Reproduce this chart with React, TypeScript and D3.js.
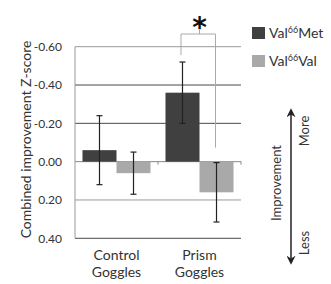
import React from 'react';
import * as d3 from 'd3';

const categories = ['Control Goggles', 'Prism Goggles'];
const groups = ['Met', 'Val'];
const metValues = [-0.06, -0.36];
const valValues = [0.06, 0.16];
const metErr = [0.18, 0.16];
const valErr = [0.11, 0.155];
const yTicks = [-0.6, -0.4, -0.2, 0, 0.2, 0.4];

const W = 331;
const H = 284;
const margin = { left: 75, right: 90, top: 46.7, bottom: 45.7 };
const font = 'Lato, "Open Sans", sans-serif';
const darkBar = '#404040';
const lightBar = '#a9a9a9';

export default function App() {
  const x = d3.scaleBand().domain(categories).range([margin.left, W - margin.right]);
  const x1 = d3.scaleBand().domain(groups).range([0, x.bandwidth()]).paddingOuter(0.22);
  const y = d3.scaleLinear().domain([-0.6, 0.4]).range([margin.top, H - margin.bottom]);
  const y0 = y(0);

  const gridColor = (t: number) => (t === -0.6 || t === 0.2 ? '#999' : t === 0 ? '#888' : '#4a4a4a');

  const bars = categories.flatMap((c, i) => [
    { c, g: 'Met', v: metValues[i], e: metErr[i], fill: darkBar },
    { c, g: 'Val', v: valValues[i], e: valErr[i], fill: lightBar },
  ]);

  // significance bracket between prism bars
  const pm = x('Prism Goggles')! + x1('Met')! + x1.bandwidth() / 2;
  const pv = x('Prism Goggles')! + x1('Val')! + x1.bandwidth() / 2;
  const bracketY = 34;

  return (
    <svg width={W} height={H} style={{ position: 'absolute', left: 0, top: 0, background: '#fff' }}>
      {yTicks.map(t => (
        <g key={t}>
          <line x1={margin.left} x2={W - margin.right} y1={y(t)} y2={y(t)} stroke={gridColor(t)} strokeWidth={1} />
          <text x={62} y={y(t)} dy="0.35em" textAnchor="end" fontFamily={font} fontSize={12} fill="#333">
            {t === 0 ? '0.00' : (t < 0 ? '-' : '') + Math.abs(t).toFixed(2)}
          </text>
        </g>
      ))}
      <line x1={margin.left} x2={margin.left} y1={y(-0.6)} y2={y(0.4)} stroke="#999" />
      {[x('Prism Goggles')!, W - margin.right].map(tx => (
        <line key={tx} x1={tx} x2={tx} y1={y0} y2={y0 + 3} stroke="#888" />
      ))}

      {bars.map(b => {
        const bx = x(b.c)! + x1(b.g)!;
        const cx = bx + x1.bandwidth() / 2;
        return (
          <g key={b.c + b.g}>
            <rect x={bx} width={x1.bandwidth()} y={Math.min(y(b.v), y0)} height={Math.abs(y(b.v) - y0)} fill={b.fill} />
            <line x1={cx} x2={cx} y1={y(b.v - b.e)} y2={y(b.v + b.e)} stroke="#222" strokeWidth={1.2} />
            <line x1={cx - 3} x2={cx + 3} y1={y(b.v - b.e)} y2={y(b.v - b.e)} stroke="#222" strokeWidth={1.2} />
            <line x1={cx - 3} x2={cx + 3} y1={y(b.v + b.e)} y2={y(b.v + b.e)} stroke="#222" strokeWidth={1.2} />
          </g>
        );
      })}

      <path
        d={`M${pm - 1.5},${y(metValues[1] - metErr[1]) - 7}V${bracketY}H${pv - 1}V${y(0) - 14}`}
        fill="none"
        stroke="#aaa"
        strokeWidth={1}
      />
      <line x1={(pm + pv) / 2} x2={(pm + pv) / 2} y1={bracketY} y2={bracketY - 4} stroke="#aaa" />
      <text x={(pm + pv) / 2} y={37} textAnchor="middle" fontFamily="DejaVu Sans" fontWeight="bold" fontSize={28} fill="#111">
        *
      </text>

      {categories.map(c => {
        const [a, b] = c.split(' ');
        return (
          <text key={c} x={x(c)! + x.bandwidth() / 2} textAnchor="middle" fontFamily={font} fontSize={14} fill="#333">
            <tspan x={x(c)! + x.bandwidth() / 2} y={260}>{a}</tspan>
            <tspan x={x(c)! + x.bandwidth() / 2} y={277}>{b}</tspan>
          </text>
        );
      })}

      <text
        transform={`translate(31,${(y(-0.6) + y(0.4)) / 2 - 3}) rotate(-90)`}
        textAnchor="middle"
        fontFamily={font}
        fontSize={14}
        fill="#333"
      >
        Combined improvement Z-score
      </text>

      {[
        { label: 'Met', fill: darkBar, yy: 27 },
        { label: 'Val', fill: lightBar, yy: 55 },
      ].map(l => (
        <g key={l.label}>
          <rect x={252} y={l.yy} width={13} height={12} fill={l.fill} />
          <text x={269} y={l.yy + 11} fontFamily={font} fontSize={14} fill="#333">
            Val<tspan fontSize={9} dy={-5}>66</tspan>
            <tspan dy={5}>{l.label}</tspan>
          </text>
        </g>
      ))}

      <defs>
        <marker id="ah" viewBox="0 0 10 10" refX={8} refY={5} markerWidth={6} markerHeight={6} orient="auto-start-reverse">
          <path d="M0,0L10,5L0,10L3,5Z" fill="#222" />
        </marker>
      </defs>
      <line x1={291} x2={291} y1={110} y2={263} stroke="#222" strokeWidth={1.5} markerStart="url(#ah)" markerEnd="url(#ah)" />
      <text transform="translate(281,183) rotate(-90)" textAnchor="middle" fontFamily={font} fontSize={13} fill="#333">
        Improvement
      </text>
      <text transform="translate(309,131) rotate(-90)" textAnchor="middle" fontFamily={font} fontSize={13} fill="#333">
        More
      </text>
      <text transform="translate(309,243) rotate(-90)" textAnchor="middle" fontFamily={font} fontSize={13} fill="#333">
        Less
      </text>
    </svg>
  );
}
